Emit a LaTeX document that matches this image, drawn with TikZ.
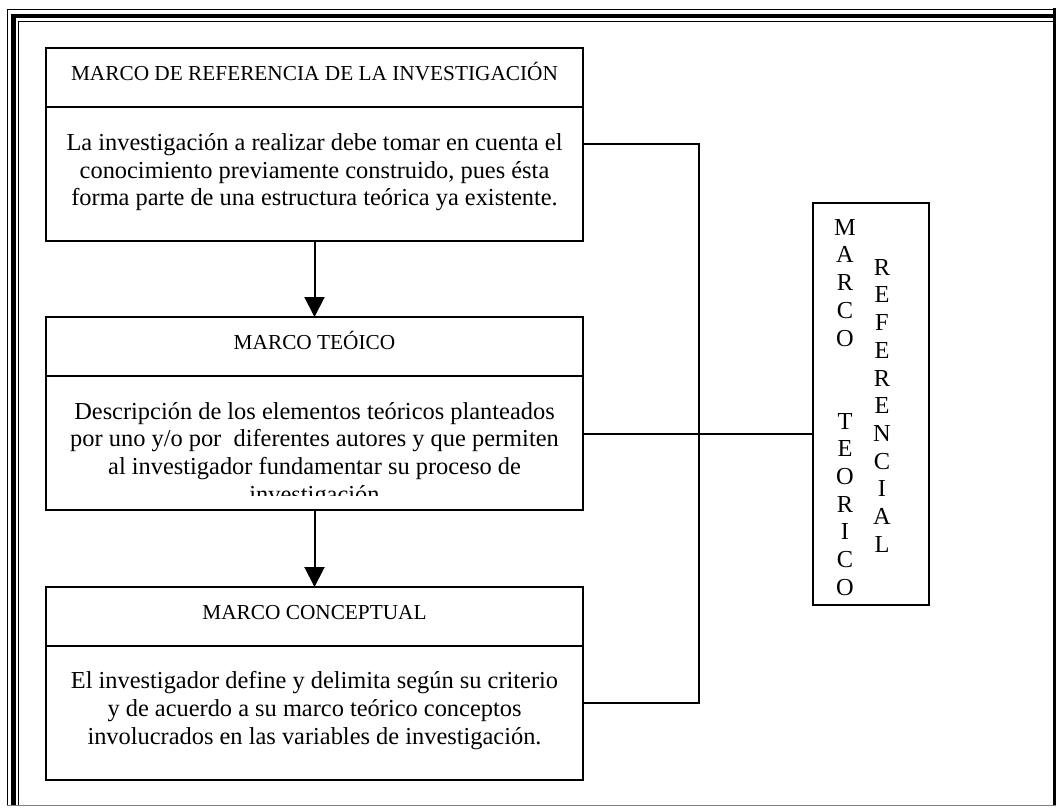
\documentclass[tikz,border=0pt]{standalone}
\usepackage{fontspec}
\setmainfont{Liberation Serif}
\usetikzlibrary{arrows.meta,positioning}

\begin{document}
\begin{tikzpicture}[x=1pt, y=-1pt,
  caja/.style={draw, line width=2pt, minimum width=537pt,
    inner sep=0pt, outer sep=0pt},
  cabecera/.style={caja, minimum height=59pt,
    font=\fontsize{21.3}{24}\selectfont, text height=12pt, text depth=7pt},
  cuerpo/.style={caja, minimum height=134pt},
  texto/.style={font=\fontsize{24.4}{27.7}\selectfont, align=center,
    anchor=north, inner sep=0pt},
  letras/.style={texto},
  flecha/.style={-{Triangle[length=20pt, width=20pt]}, line width=2pt},
  enlace/.style={line width=2pt},
  borde/.style={line width=1pt},
]
\useasboundingbox (0,0) rectangle (1056,809);

% Outer frame
\draw[borde] (7,806) -- (7,9) -- (1054,9);
\draw[line width=4.5pt] (13.5,806) -- (13.5,16) -- (1054,16);
\draw[borde] (18.5,806) -- (18.5,21) -- (1054,21);
\draw[line width=3pt] (1054.5,7.5) -- (1054.5,806);
\draw[borde, gray] (7,805.5) -- (1056,805.5);

\def\xc{314.5}

% 1. Marco de referencia
\node[cabecera] (cab1) at (\xc, 77.5) {MARCO DE REFERENCIA DE LA INVESTIGACIÓN};
\node[cuerpo, below=0pt of cab1] (cue1) {};
\node[texto, below=24pt of cue1.north] (txt1)
  {\strut La investigación a realizar debe tomar en cuenta el\\
   conocimiento previamente construido, pues ésta\\
   forma parte de una estructura teórica ya existente.};

% 2. Marco teorico
\node[cabecera, below=76pt of cue1] (cab2) {MARCO TEÓICO};
\node[cuerpo, below=0pt of cab2] (cue2) {};
\begin{scope}
  \clip (cue2.north west) rectangle ([yshift=14.5pt]cue2.south east);
  \node[texto, below=23.5pt of cue2.north] (txt2)
    {\strut Descripción de los elementos teóricos planteados\\
     por uno y/o por~ diferentes autores y que permiten\\
     al investigador fundamentar su proceso de\\
     investigación};
\end{scope}

% 3. Marco conceptual
\node[cabecera, below=77pt of cue2] (cab3) {MARCO CONCEPTUAL};
\node[cuerpo, below=0pt of cab3] (cue3) {};
\node[texto, below=23pt of cue3.north] (txt3)
  {\strut El investigador define y delimita según su criterio\\
   y de acuerdo a su marco teórico conceptos\\
   involucrados en las variables de investigación.};

% Flechas
\draw[flecha] (cue1) -- (cab2);
\draw[flecha] (cue2) -- (cab3);

% Marco teorico referencial
\node[draw, line width=2pt, minimum width=116pt, minimum height=402pt,
  inner sep=0pt, outer sep=0pt] (marcoref) at (871, 404) {};
\node[letras, below=12.6pt of marcoref.north, xshift=-26pt] (colmt)
  {\strut M\\A\\R\\C\\O\\\mbox{}\\\mbox{}\\T\\E\\O\\R\\I\\C\\O};
\node[letras, below=52.6pt of marcoref.north, xshift=11pt] (colrf)
  {\strut R\\E\\F\\E\\R\\E\\N\\C\\I\\A\\L};

% Enlaces
\draw[enlace] ([yshift=30.5pt]cue1.east) -- ++(116,0)
  |- ([yshift=10.5pt]cue3.east);
\draw[enlace] ([yshift=9.5pt]cue2.east) coordinate (m2)
  -- (m2 -| marcoref.west);

\end{tikzpicture}
\end{document}
